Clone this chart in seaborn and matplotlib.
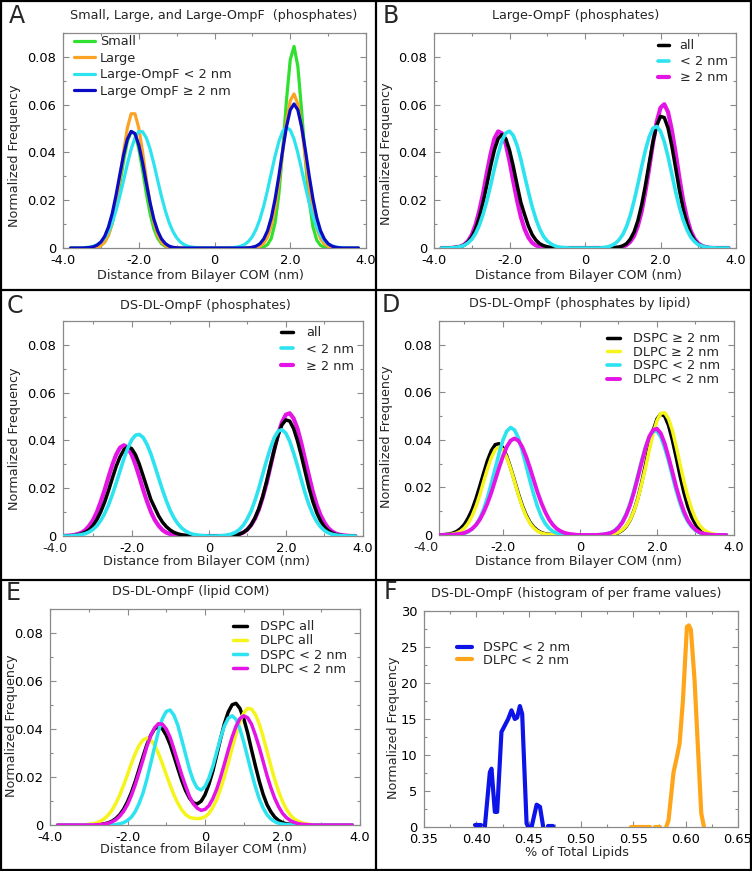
import numpy as np
import matplotlib.pyplot as plt
import seaborn as sns
from matplotlib.ticker import MultipleLocator, FuncFormatter
from matplotlib.lines import Line2D

sns.set_theme(style='white')
plt.rcParams.update({
    'font.family': ['DejaVu Sans'],
    'axes.edgecolor': '#8a8a8a',
    'axes.linewidth': 0.9,
    'xtick.color': '#8a8a8a',
    'ytick.color': '#8a8a8a',
    'xtick.labelcolor': 'black',
    'ytick.labelcolor': 'black',
})

W, H = 752, 871

# sampling grid of the distance profiles (nm), -3.8 ... 3.8
X_NM = [-3.8, -3.7, -3.6, -3.5, -3.4, -3.3, -3.2, -3.1, -3.0, -2.9, -2.8,
        -2.7, -2.6, -2.5, -2.4, -2.3, -2.2, -2.1, -2.0, -1.9, -1.8, -1.7,
        -1.6, -1.5, -1.4, -1.3, -1.2, -1.1, -1.0, -0.9, -0.8, -0.7, -0.6,
        -0.5, -0.4, -0.3, -0.2, -0.1, 0.0, 0.1, 0.2, 0.3, 0.4, 0.5,
        0.6, 0.7, 0.8, 0.9, 1.0, 1.1, 1.2, 1.3, 1.4, 1.5, 1.6,
        1.7, 1.8, 1.9, 2.0, 2.1, 2.2, 2.3, 2.4, 2.5, 2.6, 2.7,
        2.8, 2.9, 3.0, 3.1, 3.2, 3.3, 3.4, 3.5, 3.6, 3.7, 3.8]

Z11 = [0] * 11

# A: Small, Large, Large-OmpF (phosphates)
a_small = [0, 0, 0, 0, 0, 0, .0001, .0004, .0011, .0025, .0054,
           .0103, .0175, .0268, .0365, .0446, .0488, .0477, .0417, .0327, .0229, .0143,
           .0080, .0041, .0018, .0007, .0003, .0001, 0, 0, 0, 0, 0] + Z11 + [
           0, 0, 0, 0, 0, 0, .0001, .0004, .0014, .0041, .0106,
           .0226, .0407, .0618, .0788, .0844, .0761, .0576, .0367, .0196, .0088, .0033,
           .0011, .0003, .0001, 0, 0, 0, 0, 0, 0, 0, 0]
a_large = [0, 0, 0, 0, 0, 0, .0001, .0004, .0010, .0025, .0054,
           .0107, .0185, .0289, .0403, .0503, .0562, .0562, .0503, .0403, .0289, .0185,
           .0107, .0054, .0025, .0010, .0004, .0001, 0, 0, 0, 0, 0] + Z11 + [
           0, 0, 0, 0, 0, .0003, .0008, .0020, .0046, .0094, .0170,
           .0277, .0404, .0528, .0617, .0645, .0603, .0505, .0378, .0254, .0152, .0082,
           .0039, .0017, .0007, .0002, .0001, 0, 0, 0, 0, 0, 0]
a_omp_in = [0, 0, 0, 0, .0002, .0004, .0007, .0014, .0025, .0043, .0070,
            .0107, .0157, .0216, .0283, .0352, .0414, .0461, .0487, .0487, .0461, .0414,
            .0352, .0283, .0216, .0157, .0107, .0070, .0043, .0025, .0014, .0007, .0004,
            .0002, 0, 0, 0, 0, 0, 0, 0, 0, 0, .0002,
            .0004, .0008, .0015, .0028, .0048, .0079, .0121, .0176, .0242, .0314, .0385,
            .0446, .0488, .0505, .0494, .0456, .0398, .0328, .0256, .0189, .0131, .0086,
            .0054, .0031, .0017, .0009, .0005, .0002, .0001, 0, 0, 0, 0]
a_omp_out = [0, 0, 0, 0, .0001, .0002, .0005, .0012, .0025, .0049, .0088,
             .0145, .0221, .0307, .0390, .0456, .0488, .0479, .0432, .0358, .0271, .0189,
             .0120, .0071, .0038, .0019, .0008, .0003, .0001, 0, 0, 0, 0] + Z11 + [
             0, 0, 0, .0001, .0003, .0008, .0018, .0038, .0072, .0127, .0205,
             .0302, .0409, .0507, .0578, .0603, .0578, .0507, .0409, .0302, .0205, .0127,
             .0072, .0038, .0018, .0008, .0003, .0001, 0, 0, 0, 0, 0]

# B: Large-OmpF (phosphates)
b_all = [0, 0, 0, .0001, .0003, .0006, .0012, .0025, .0046, .0079, .0128,
         .0191, .0265, .0342, .0410, .0458, .0475, .0458, .0410, .0342, .0265, .0191,
         .0140, .0092, .0056, .0033, .0018, .0010, .0005, .0002, .0001, 0, 0] + Z11 + [
         0, .0001, .0002, .0004, .0009, .0018, .0037, .0067, .0114, .0180, .0262,
         .0355, .0444, .0513, .0551, .0546, .0502, .0427, .0336, .0244, .0164, .0104,
         .0060, .0032, .0016, .0007, .0003, .0001, 0, 0, 0, 0, 0]
b_in = [0, 0, 0, .0001, .0003, .0006, .0011, .0021, .0036, .0060, .0095,
        .0141, .0197, .0262, .0333, .0396, .0449, .0481, .0489, .0471, .0430, .0372,
        .0303, .0236, .0173, .0121, .0079, .0049, .0029, .0017, .0009, .0004, .0002,
        .0001, 0, 0, 0, 0, 0, 0, 0, 0, 0, .0002,
        .0005, .0010, .0019, .0034, .0056, .0090, .0137, .0197, .0266, .0340, .0409,
        .0465, .0501, .0509, .0489, .0445, .0382, .0310, .0236, .0171, .0118, .0076,
        .0046, .0027, .0014, .0008, .0004, .0002, .0001, 0, 0, 0, 0]
b_out = [0, 0, 0, .0001, .0003, .0006, .0014, .0029, .0055, .0097, .0156,
         .0229, .0315, .0394, .0458, .0488, .0480, .0435, .0364, .0279, .0199, .0130,
         .0079, .0044, .0022, .0011, .0005, .0002, .0001, 0, 0, 0, 0] + Z11 + [
         0, 0, 0, .0002, .0005, .0012, .0026, .0050, .0092, .0152, .0236,
         .0333, .0438, .0529, .0587, .0602, .0569, .0494, .0399, .0294, .0199, .0126,
         .0072, .0039, .0019, .0009, .0004, .0001, 0, 0, 0, 0, 0]

# C: DS-DL-OmpF (phosphates)
c_all = [0, 0, .0001, .0002, .0004, .0009, .0016, .0026, .0044, .0069, .0102,
         .0142, .0190, .0242, .0292, .0332, .0361, .0373, .0366, .0340, .0300, .0251,
         .0201, .0152, .0118, .0084, .0058, .0039, .0025, .0015, .0009, .0005, .0003,
         .0001, 0, 0, 0, 0, 0, 0, 0, 0, 0, 0,
         .0002, .0004, .0008, .0015, .0027, .0047, .0076, .0115, .0166, .0228, .0296,
         .0362, .0423, .0466, .0486, .0481, .0450, .0399, .0337, .0269, .0201, .0144,
         .0098, .0063, .0038, .0022, .0012, .0006, .0003, .0001, 0, 0, 0]
c_in = [0, 0, 0, .0002, .0003, .0006, .0010, .0017, .0028, .0043, .0065,
        .0094, .0130, .0173, .0222, .0273, .0324, .0368, .0402, .0422, .0425, .0412,
        .0383, .0343, .0294, .0243, .0193, .0147, .0107, .0075, .0051, .0033, .0021,
        .0012, .0007, .0004, .0002, .0001, 0, 0, 0, .0001, .0002, .0005,
        .0009, .0016, .0028, .0046, .0072, .0105, .0149, .0201, .0259, .0316, .0369,
        .0412, .0439, .0445, .0430, .0396, .0348, .0294, .0235, .0179, .0130, .0091,
        .0060, .0038, .0023, .0013, .0007, .0004, .0002, .0001, 0, 0, 0]
c_out = [0, .0001, .0002, .0004, .0008, .0014, .0025, .0043, .0067, .0101, .0144,
         .0193, .0247, .0298, .0341, .0370, .0380, .0370, .0341, .0298, .0247, .0193,
         .0144, .0101, .0067, .0043, .0025, .0014, .0008, .0004, .0002, .0001, 0] + Z11 + [
         .0002, .0004, .0008, .0015, .0027, .0046, .0073, .0111, .0162, .0221, .0291,
         .0362, .0427, .0477, .0508, .0514, .0492, .0450, .0389, .0319, .0251, .0185,
         .0130, .0087, .0056, .0033, .0019, .0010, .0005, .0003, .0001, 0, 0]

# D: DS-DL-OmpF (phosphates by lipid)
d_dspc_out = [0, 0, .0001, .0002, .0004, .0008, .0015, .0027, .0045, .0072, .0107,
              .0153, .0206, .0261, .0314, .0355, .0380, .0384, .0367, .0331, .0282, .0229,
              .0174, .0125, .0085, .0054, .0033, .0019, .0010, .0005, .0003, .0001, 0] + Z11 + [
              0, .0001, .0002, .0005, .0010, .0020, .0036, .0062, .0101, .0153, .0219,
              .0294, .0370, .0439, .0488, .0509, .0500, .0461, .0399, .0325, .0248, .0178,
              .0120, .0076, .0045, .0025, .0013, .0007, .0003, .0001, 0, 0, 0]
d_dlpc_out = [0, 0, 0, .0001, .0002, .0004, .0008, .0016, .0029, .0050, .0080,
              .0120, .0169, .0225, .0279, .0326, .0359, .0370, .0359, .0326, .0279, .0225,
              .0169, .0120, .0080, .0050, .0029, .0016, .0008, .0004, .0002, .0001, 0] + Z11 + [
              0, .0001, .0003, .0006, .0011, .0022, .0038, .0063, .0100, .0150, .0214,
              .0282, .0357, .0427, .0481, .0512, .0514, .0489, .0440, .0372, .0298, .0225,
              .0162, .0110, .0070, .0042, .0024, .0013, .0007, .0003, .0001, 0, 0]
d_dspc_in = [0, 0, 0, 0, 0, .0001, .0002, .0003, .0007, .0014, .0025,
             .0043, .0070, .0108, .0158, .0217, .0280, .0343, .0399, .0437, .0452, .0442,
             .0409, .0356, .0294, .0229, .0170, .0118, .0077, .0048, .0028, .0015, .0008,
             .0004, .0002, .0001, 0, 0, 0, 0, 0, 0, 0, .0001,
             .0003, .0005, .0010, .0019, .0034, .0057, .0088, .0132, .0187, .0248, .0312,
             .0367, .0412, .0437, .0437, .0412, .0367, .0312, .0248, .0187, .0132, .0088,
             .0057, .0034, .0019, .0010, .0005, .0003, .0001, 0, 0, 0, 0]
d_dlpc_in = [0, 0, 0, 0, 0, .0001, .0003, .0005, .0009, .0016, .0026,
             .0042, .0065, .0096, .0134, .0179, .0231, .0283, .0331, .0371, .0397, .0406,
             .0397, .0371, .0331, .0283, .0231, .0179, .0134, .0096, .0065, .0042, .0026,
             .0016, .0009, .0005, .0003, .0001, 0, 0, 0, 0, 0, .0001,
             .0002, .0005, .0009, .0017, .0031, .0052, .0084, .0125, .0178, .0240, .0304,
             .0365, .0414, .0442, .0447, .0427, .0385, .0328, .0266, .0202, .0146, .0099,
             .0063, .0039, .0022, .0012, .0006, .0003, .0001, 0, 0, 0, 0]

# E: DS-DL-OmpF (lipid COM)
e_dspc_all = [0, 0, 0, 0, 0, 0, 0, 0, 0, 0, .0001,
              .0003, .0005, .0009, .0016, .0027, .0043, .0066, .0097, .0135, .0181, .0233,
              .0285, .0335, .0374, .0401, .0410, .0401, .0374, .0335, .0286, .0235, .0185,
              .0143, .0112, .0092, .0088, .0099, .0126, .0169, .0223, .0290, .0358, .0422,
              .0471, .0501, .0507, .0486, .0443, .0384, .0314, .0247, .0183, .0128, .0085,
              .0055, .0033, .0019, .0010, .0005, .0003, .0001, 0, 0, 0, 0] + Z11
e_dlpc_all = [0, 0, 0, 0, 0, 0, .0001, .0001, .0003, .0005, .0009,
              .0016, .0026, .0041, .0062, .0090, .0125, .0166, .0210, .0256, .0298, .0332,
              .0354, .0362, .0354, .0332, .0298, .0256, .0210, .0166, .0125, .0090, .0063,
              .0044, .0032, .0028, .0027, .0028, .0034, .0048, .0073, .0105, .0149, .0201,
              .0259, .0320, .0379, .0430, .0467, .0486, .0483, .0461, .0421, .0368, .0308,
              .0246, .0189, .0140, .0098, .0066, .0042, .0026, .0016, .0009, .0005, .0002,
              .0001, 0, 0, 0, 0, 0, 0, 0, 0, 0, 0]
e_dspc_in = Z11 + [
             0, 0, 0, 0, .0002, .0005, .0010, .0019, .0033, .0056, .0090,
             .0133, .0191, .0257, .0326, .0391, .0443, .0473, .0479, .0457, .0415, .0355,
             .0293, .0232, .0184, .0154, .0146, .0160, .0195, .0243, .0303, .0362, .0412,
             .0445, .0455, .0440, .0401, .0346, .0282, .0218, .0159, .0109, .0071, .0043,
             .0025, .0014, .0007, .0004, .0002, .0001, 0, 0, 0, 0, 0] + Z11
e_dlpc_in = [0, 0, 0, 0, 0, 0, 0, 0, 0, 0, .0001,
             .0002, .0004, .0007, .0013, .0022, .0037, .0057, .0085, .0123, .0168, .0219,
             .0272, .0327, .0372, .0405, .0422, .0420, .0400, .0365, .0315, .0262, .0209,
             .0162, .0119, .0088, .0070, .0061, .0065, .0080, .0109, .0148, .0198, .0254,
             .0312, .0366, .0411, .0443, .0455, .0447, .0420, .0375, .0323, .0265, .0206,
             .0155, .0111, .0076, .0049, .0031, .0019, .0011, .0006, .0003, .0002, .0001] + Z11

# F: histogram of per frame values (nan = gap in the trace)
f_dspc_x = [0.3985, 0.4040, np.nan, 0.4081, 0.4129, 0.4145, 0.4177, 0.4199, 0.4240,
            0.4272, 0.4304, 0.4336, 0.4368, 0.4390, 0.4416, 0.4438, 0.4480, 0.4496,
            0.4528, 0.4576, 0.4608, 0.4639, np.nan, 0.4687, 0.4729]
f_dspc_y = [0.3, 0.3, np.nan, 0, 7.6, 8.1, 2.1, 2.1, 13.2,
            14.1, 15.0, 16.2, 15.0, 15.2, 16.8, 15.7, 0.5, 0,
            0, 3.1, 2.8, 0, np.nan, 0.1, 0.1]
f_dlpc_x = [0.548, 0.566, np.nan, 0.571, 0.5757, np.nan, 0.5814, 0.5836, 0.5884,
            0.5916, 0.5942, 0.5974, 0.6012, 0.6031, 0.6050, 0.6085, 0.6117, 0.6149, 0.6175]
f_dlpc_y = [0, 0, np.nan, 0, 0, np.nan, 0, 0.9, 7.6,
            9.7, 11.6, 17.6, 27.8, 28.0, 27.4, 20.4, 11.1, 1.9, 0]

GREEN, ORANGE, CYAN = '#2fe02f', '#fca326', '#2ce3ef'
BLUE, MAGENTA, YELLOW = '#0b0bc4', '#e414e4', '#f5f51c'
FBLUE, FORANGE = '#0d14e8', '#ffa51a'

XLABEL = 'Distance from Bilayer COM (nm)'
YLABEL = 'Normalized Frequency'
TICK_FS, LABEL_FS, TITLE_FS, LEG_FS = 9.4, 9.2, 9.2, 9.3

fig = plt.figure(figsize=(W / 100, H / 100), dpi=100)


def px_axes(x0, y0, x1, y1):
    return fig.add_axes([x0 / W, 1 - y1 / H, (x1 - x0) / W, (y1 - y0) / H])


def curve(ax, xs, ys, color, label, lw=2.4, z=2):
    sns.lineplot(x=xs, y=ys, ax=ax, color=color, linewidth=lw, label=label,
                 zorder=z, sort=False, estimator=None)


def style(ax, xlim, ylim, xmaj, xmin, ymaj, ymin, xfmt, yfmt):
    ax.set_xlim(*xlim)
    ax.set_ylim(*ylim)
    ax.xaxis.set_major_locator(MultipleLocator(xmaj))
    ax.xaxis.set_minor_locator(MultipleLocator(xmin))
    ax.yaxis.set_major_locator(MultipleLocator(ymaj))
    ax.yaxis.set_minor_locator(MultipleLocator(ymin))
    ax.xaxis.set_major_formatter(FuncFormatter(xfmt))
    ax.yaxis.set_major_formatter(FuncFormatter(yfmt))
    ax.tick_params(which='both', direction='in', top=True, right=True,
                   bottom=True, left=True, labelsize=TICK_FS)
    ax.tick_params(which='major', length=4, width=0.8)
    ax.tick_params(which='minor', length=2.2, width=0.8)
    ax.tick_params(axis='x', pad=4)
    ax.tick_params(axis='y', pad=5)


def legend(ax, anchor, hl, htp, ls):
    h, l = ax.get_legend_handles_labels()
    ax.legend(h, l, loc='upper left', bbox_to_anchor=anchor, frameon=False,
              handlelength=hl, handletextpad=htp, labelspacing=ls,
              borderpad=0, borderaxespad=0, fontsize=LEG_FS)


def labels(ax, xl, xpos, ypos):
    ax.set_xlabel(xl, fontsize=LABEL_FS)
    ax.set_ylabel(YLABEL, fontsize=LABEL_FS)
    ax.xaxis.set_label_coords(*xpos)
    ax.yaxis.set_label_coords(*ypos)


nm_fmt = lambda v, p: '0' if abs(v) < 1e-9 else f'{v:.1f}'
fr_fmt = lambda v, p: '0' if abs(v) < 1e-9 else f'{v:.2f}'


def extra_tick_label(ax, text):
    # "-4.0" label sits left of the frame in panels C and D
    ax.annotate(text, xy=(-4.0, 0), xycoords=('data', 'axes fraction'),
                xytext=(0, -4), textcoords='offset points', ha='center', va='top',
                fontsize=TICK_FS, annotation_clip=False)


# ---- A ----
axA = px_axes(63, 33, 366, 248)
curve(axA, X_NM, a_small, GREEN, 'Small', 2.3, 2)
curve(axA, X_NM, a_large, ORANGE, 'Large', 2.3, 3)
curve(axA, X_NM, a_omp_in, CYAN, 'Large-OmpF < 2 nm', 2.3, 4)
curve(axA, X_NM, a_omp_out, BLUE, 'Large OmpF \u2265 2 nm', 2.3, 5)
style(axA, (-4, 4), (0, 0.09), 2, 1, 0.02, 0.01, nm_fmt, fr_fmt)
legend(axA, (0.036, 0.99), 1.6, 0.4, 0.28)
labels(axA, XLABEL, (0.454, -0.098), (-0.139, 0.43))

# ---- B ----
axB = px_axes(434, 33, 736, 248)
curve(axB, X_NM, b_all, 'black', 'all', 2.5, 3)
curve(axB, X_NM, b_in, CYAN, '< 2 nm', 2.6, 4)
curve(axB, X_NM, b_out, MAGENTA, '\u2265 2 nm', 3.0, 2)
style(axB, (-4, 4), (0, 0.09), 2, 1, 0.02, 0.01, nm_fmt, fr_fmt)
legend(axB, (0.741, 0.971), 0.9, 0.8, 0.23)
labels(axB, XLABEL, (0.479, -0.098), (-0.135, 0.44))

# ---- C ----
axC = px_axes(63, 321, 363, 536)
curve(axC, X_NM, c_all, 'black', 'all', 2.5, 3)
curve(axC, X_NM, c_in, CYAN, '< 2 nm', 2.6, 4)
curve(axC, X_NM, c_out, MAGENTA, '\u2265 2 nm', 3.0, 2)
style(axC, (-3.78, 4), (0, 0.09), 2, 1, 0.02, 0.01, nm_fmt, fr_fmt)
extra_tick_label(axC, '-4.0')
legend(axC, (0.728, 0.976), 0.9, 1.0, 0.29)
labels(axC, XLABEL, (0.478, -0.087), (-0.141, 0.454))

# ---- D ----
axD = px_axes(439, 321, 734, 535)
curve(axD, X_NM, d_dspc_out, 'black', 'DSPC \u2265 2 nm', 2.5, 2)
curve(axD, X_NM, d_dlpc_out, YELLOW, 'DLPC \u2265 2 nm', 2.5, 3)
curve(axD, X_NM, d_dspc_in, CYAN, 'DSPC < 2 nm', 2.6, 4)
curve(axD, X_NM, d_dlpc_in, MAGENTA, 'DLPC < 2 nm', 2.8, 5)
style(axD, (-3.66, 4), (0, 0.09), 2, 1, 0.02, 0.01, nm_fmt, fr_fmt)
extra_tick_label(axD, '-4.0')
legend(axD, (0.571, 0.948), 1.0, 1.0, 0.05)
labels(axD, XLABEL, (0.472, -0.092), (-0.155, 0.459))

# ---- E ----
axE = px_axes(50, 609, 360, 825)
curve(axE, X_NM, e_dspc_all, 'black', 'DSPC all', 2.5, 2)
curve(axE, X_NM, e_dlpc_all, YELLOW, 'DLPC all', 2.5, 3)
curve(axE, X_NM, e_dspc_in, CYAN, 'DSPC < 2 nm', 2.5, 4)
curve(axE, X_NM, e_dlpc_in, MAGENTA, 'DLPC < 2 nm', 2.5, 5)
style(axE, (-4, 4), (0, 0.09), 2, 1, 0.02, 0.01, nm_fmt, fr_fmt)
legend(axE, (0.591, 0.947), 1.1, 1.0, 0.08)
labels(axE, XLABEL, (0.494, -0.085), (-0.104, 0.46))

# ---- F ----
axF = px_axes(424, 611, 738, 827)


def trace(ax, xs, ys, color, label, lw=3.0):
    xs, ys = np.asarray(xs, float), np.asarray(ys, float)
    breaks = np.where(np.isnan(xs))[0]
    parts = np.split(np.arange(len(xs)), breaks)
    first = True
    for idx in parts:
        idx = idx[~np.isnan(xs[idx])]
        if len(idx) == 0:
            continue
        curve(ax, xs[idx], ys[idx], color, label if first else None, lw, 3)
        first = False


trace(axF, f_dspc_x, f_dspc_y, FBLUE, 'DSPC < 2 nm')
trace(axF, f_dlpc_x, f_dlpc_y, FORANGE, 'DLPC < 2 nm')
style(axF, (0.35, 0.65), (0, 30), 0.05, 0.025, 5, 2.5,
      lambda v, p: f'{v:.2f}', lambda v, p: f'{v:g}')
legend(axF, (0.104, 0.861), 1.2, 0.85, -0.02)
labels(axF, '% of Total Lipids', (0.486, -0.088), (-0.077, 0.459))

# ---- titles and panel letters ----
titles = [('Small, Large, and Large-OmpF  (phosphates)', 214, 15),
          ('Large-OmpF (phosphates)', 576, 15),
          ('DS-DL-OmpF (phosphates)', 205, 305),
          ('DS-DL-OmpF (phosphates by lipid)', 580, 303),
          ('DS-DL-OmpF (lipid COM)', 191, 592),
          ('DS-DL-OmpF (histogram of per frame values)', 576, 593)]
for t, px, py in titles:
    fig.text(px / W, 1 - py / H, t, ha='center', va='center', fontsize=TITLE_FS)

letters = [('A', 17, 16), ('B', 391, 16), ('C', 15, 306),
           ('D', 391, 305), ('E', 13, 593), ('F', 390, 592)]
for t, px, py in letters:
    fig.text(px / W, 1 - py / H, t, ha='center', va='center', fontsize=17)

# panel frames
for (x0, y0, x1, y1) in [(1, 1, 751, 1), (1, 870, 751, 870), (1, 1, 1, 870),
                         (751, 1, 751, 870), (376, 1, 376, 870),
                         (1, 290, 751, 290), (1, 580, 751, 580)]:
    fig.add_artist(Line2D([x0 / W, x1 / W], [1 - y0 / H, 1 - y1 / H],
                          transform=fig.transFigure, color='black', lw=1.6))

fig.savefig('out.png', dpi=100)
